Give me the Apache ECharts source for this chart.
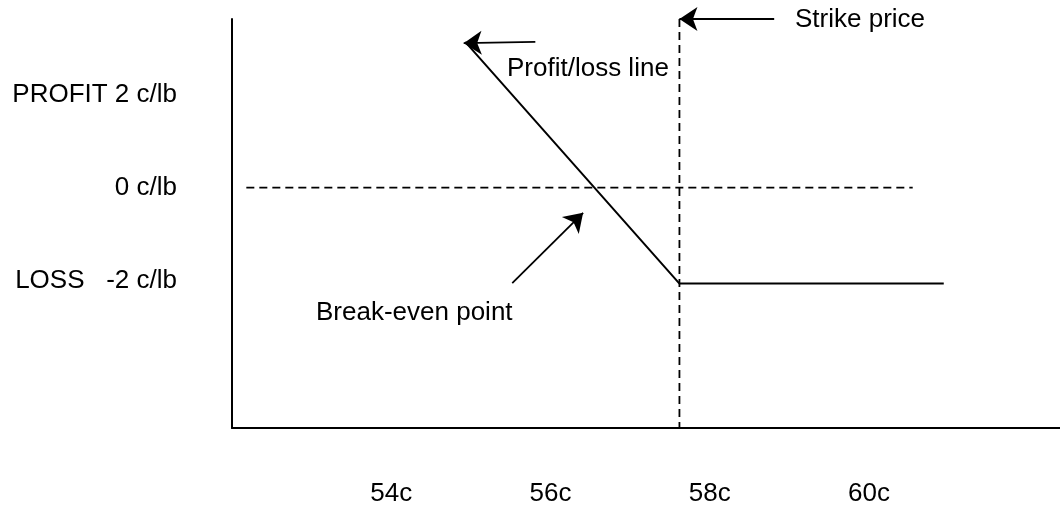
<!DOCTYPE html>
<html>
<head>
<meta charset="utf-8">
<script src="https://cdn.jsdelivr.net/npm/echarts@6/dist/echarts.min.js"></script>
<style>
html,body{margin:0;padding:0;background:#fff;}
#chart{width:1060px;height:506px;}
</style>
</head>
<body>
<div id="chart"></div>
<script>
// ---- data ----
const xTicks = [54, 56, 58, 60];
const yTicks = [2, 0, -2];
const yTickLabels = ['PROFIT 2 c/lb', '0 c/lb', 'LOSS   -2 c/lb'];
const payoffLine = [[54.93, 3.13], [57.62, -2.06], [60.94, -2.06]];
const zeroLine = [[52.18, 0], [60.55, 0]];
const strikeLine = [[57.62, 3.62], [57.62, -5.16]];
const strikeArrow = [[58.81, 3.62], [57.62, 3.62]];
const profitArrow = [[55.81, 3.13], [54.91, 3.10]];
const breakEvenArrow = [[55.52, -2.05], [56.41, -0.54]];
const annotations = [
  {text: 'Strike price', x: 795, y: 20},
  {text: 'Profit/loss line', x: 507, y: 69},
  {text: 'Break-even point', x: 316, y: 312.5}
];

const FONT = '"Liberation Sans", Arial, sans-serif';
const FS = 26;

const chart = echarts.init(document.getElementById('chart'), null, {renderer: 'canvas'});
chart.setOption({
  backgroundColor: '#fff',
  animation: false,
  grid: {left: 232, right: 0, top: 19, bottom: 78, containLabel: false, outerBoundsMode: 'none'},
  xAxis: {
    type: 'value', min: 52, max: 62.4,
    axisLine: {show: true, onZero: false, lineStyle: {color: '#000', width: 2}},
    axisTick: {show: false},
    splitLine: {show: false},
    axisLabel: {
      show: true, customValues: xTicks, margin: 53,
      color: '#000', fontSize: FS, fontFamily: FONT,
      formatter: v => v + 'c'
    }
  },
  yAxis: {
    type: 'value', min: -5.16, max: 3.62,
    axisLine: {show: true, onZero: false, lineStyle: {color: '#000', width: 2}},
    axisTick: {show: false},
    splitLine: {show: false},
    axisLabel: {
      show: true, customValues: yTicks, margin: 55,
      color: '#000', fontSize: FS, fontFamily: FONT,
      formatter: v => yTickLabels[yTicks.indexOf(v)]
    }
  },
  series: [
    {type: 'line', data: zeroLine, symbol: 'none', silent: true, clip: false,
     lineStyle: {color: '#000', width: 1.8, type: [8, 5]}},
    {type: 'line', data: strikeLine, symbol: 'none', silent: true, clip: false,
     lineStyle: {color: '#000', width: 1.8, type: [8, 5]}},
    {type: 'line', data: payoffLine, symbol: 'none', silent: true, clip: false,
     lineStyle: {color: '#000', width: 2}},
    {type: 'lines', coordinateSystem: 'cartesian2d', silent: true, clip: false,
     symbol: ['none', 'arrow'], symbolSize: [16, 18],
     lineStyle: {color: '#000', width: 1.8, opacity: 1},
     itemStyle: {color: '#000'},
     data: [
       {coords: strikeArrow},
       {coords: profitArrow},
       {coords: breakEvenArrow}
     ]}
  ],
  graphic: annotations.map(a => ({
    type: 'text', x: a.x, y: a.y, silent: true,
    style: {text: a.text, fill: '#000', font: FS + 'px ' + FONT, align: 'left', verticalAlign: 'middle'}
  }))
});
</script>
</body>
</html>
